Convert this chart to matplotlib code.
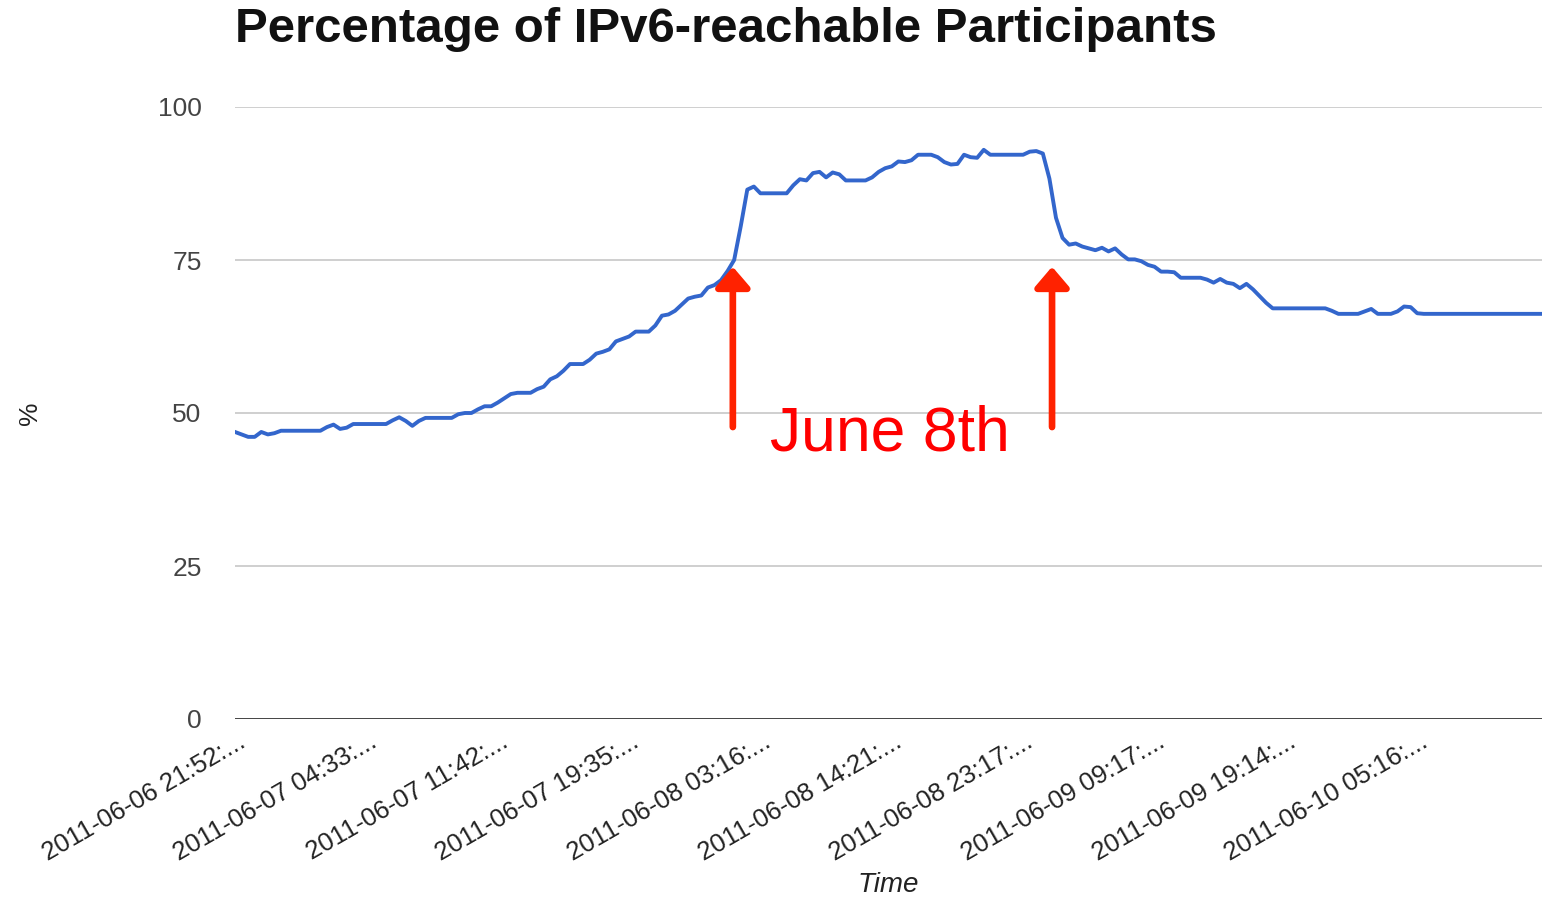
import numpy as np
import matplotlib
matplotlib.use('Agg')
import matplotlib.pyplot as plt
import matplotlib.transforms as mtransforms

plt.rcParams['font.family'] = ['Liberation Sans', 'DejaVu Sans']

# percentage of participants reachable over IPv6, one value per sample
pct = [
    46.9, 46.5, 46.1, 46.1, 46.9, 46.5, 46.7, 47.1, 47.1, 47.1,
    47.1, 47.1, 47.1, 47.1, 47.7, 48.1, 47.4, 47.6, 48.2, 48.2,
    48.2, 48.2, 48.2, 48.2, 48.8, 49.3, 48.7, 47.9, 48.7, 49.2,
    49.2, 49.2, 49.2, 49.2, 49.8, 50.0, 50.0, 50.6, 51.1, 51.1,
    51.7, 52.4, 53.1, 53.3, 53.3, 53.3, 53.9, 54.3, 55.5, 56.0,
    56.9, 58.0, 58.0, 58.0, 58.7, 59.7, 60.0, 60.4, 61.7, 62.1,
    62.5, 63.3, 63.3, 63.3, 64.3, 65.9, 66.1, 66.7, 67.7, 68.7,
    69.0, 69.2, 70.5, 70.9, 71.7, 73.2, 75.0, 80.5, 86.5, 87.0,
    85.9, 85.9, 85.9, 85.9, 85.9, 87.2, 88.2, 88.0, 89.2, 89.4,
    88.5, 89.3, 89.0, 88.0, 88.0, 88.0, 88.0, 88.5, 89.4, 90.0,
    90.3, 91.1, 91.0, 91.3, 92.2, 92.2, 92.2, 91.8, 91.0, 90.6,
    90.7, 92.2, 91.8, 91.7, 93.0, 92.2, 92.2, 92.2, 92.2, 92.2,
    92.2, 92.7, 92.8, 92.4, 88.3, 81.9, 78.6, 77.5, 77.7, 77.2,
    76.9, 76.6, 77.0, 76.4, 76.9, 75.9, 75.1, 75.1, 74.8, 74.2,
    73.9, 73.1, 73.1, 73.0, 72.1, 72.1, 72.1, 72.1, 71.8, 71.3,
    71.9, 71.3, 71.1, 70.4, 71.1, 70.2, 69.1, 68.0, 67.1, 67.1,
    67.1, 67.1, 67.1, 67.1, 67.1, 67.1, 67.1, 66.7, 66.2, 66.2,
    66.2, 66.2, 66.6, 67.0, 66.2, 66.2, 66.2, 66.6, 67.4, 67.3,
    66.3, 66.2, 66.2, 66.2, 66.2, 66.2, 66.2, 66.2, 66.2, 66.2,
    66.2, 66.2, 66.2, 66.2, 66.2, 66.2, 66.2, 66.2, 66.2, 66.2,
]

tick_labels = [
    '2011-06-06 21:52:...', '2011-06-07 04:33:...', '2011-06-07 11:42:...',
    '2011-06-07 19:35:...', '2011-06-08 03:16:...', '2011-06-08 14:21:...',
    '2011-06-08 23:17:...', '2011-06-09 09:17:...', '2011-06-09 19:14:...',
    '2011-06-10 05:16:...',
]
tick_every = 20

# June 8th markers: sample index where each arrow points
arrow_idx = [75.8, 124.4]

x = np.arange(len(pct))

fig = plt.figure(figsize=(15.42, 9.02), dpi=100)
ax = fig.add_axes([235/1542, 1 - 719/902, 1307/1542, 612/902])

for v in [25, 50, 75, 100]:
    ax.axhline(v, color='#cccccc', lw=1.3, zorder=0)
ax.axhline(0, color='#333333', lw=2.0, zorder=1)

ax.plot(x, pct, color='#3366cc', lw=2.8, solid_joinstyle='round', zorder=3)

ax.set_xlim(0, len(pct) - 1)
ax.set_ylim(0, 100)
for s in ax.spines.values():
    s.set_visible(False)

ax.set_yticks([0, 25, 50, 75, 100])
ax.tick_params(axis='y', length=0, pad=24, labelsize=19, labelcolor='#444444')
ax.set_xticks(x[::tick_every])
ax.set_xticklabels(tick_labels, rotation=30, ha='right', va='center',
                   rotation_mode='anchor', fontsize=18.5, color='#222222')
ax.tick_params(axis='x', length=0, pad=15)
shift = mtransforms.ScaledTranslation(8/100, 0, fig.dpi_scale_trans)
for lab in ax.get_xticklabels():
    lab.set_transform(lab.get_transform() + shift)

ax.set_xlabel('Time', fontsize=20, style='italic', color='#222222')
ax.xaxis.set_label_coords(0.5, -(872 - 719) / 612)
ax.yaxis.set_label_coords(-(235 - 42) / 1307, 0.5)
ax.set_ylabel('%', fontsize=19, color='#222222')

fig.text(235/1542, 1 - 30/902, 'Percentage of IPv6-reachable Participants',
         fontsize=35.5, fontweight='bold', va='center', ha='left', color='#111111')

for xi in arrow_idx:
    ax.annotate('', xy=(xi, 73.9), xytext=(xi, 47.7),
                arrowprops=dict(arrowstyle='-|>,head_width=1.04,head_length=1.22',
                                mutation_scale=10, color='#ff2200', lw=4.8,
                                shrinkA=0, shrinkB=0),
                zorder=4)

ax.text(99.7, 46.6, 'June 8th', fontsize=45, color='#ff0000',
        ha='center', va='center')

fig.savefig('out.png', dpi=100)
